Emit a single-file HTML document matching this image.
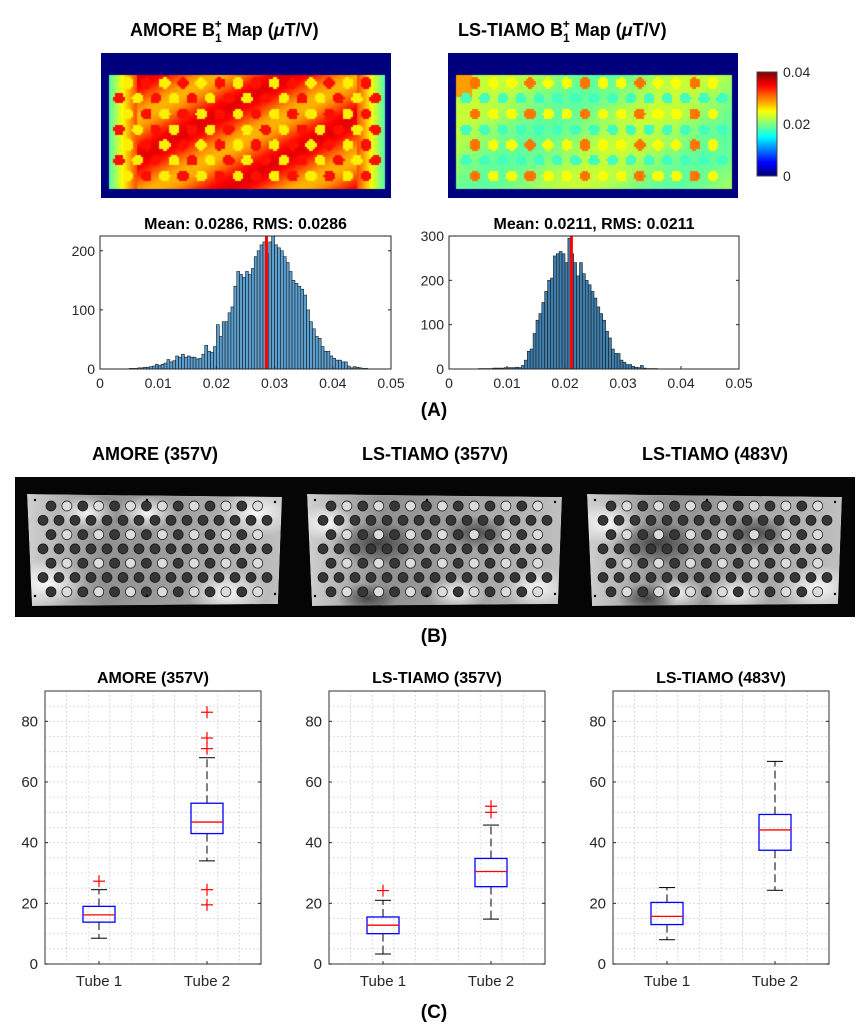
<!DOCTYPE html>
<html><head><meta charset="utf-8"><style>
body{margin:0;background:#fff;width:868px;height:1034px;overflow:hidden;position:relative;font-family:"Liberation Sans",Arial,sans-serif}
canvas{position:absolute}
svg{position:absolute;left:0;top:0}
</style></head><body>
<canvas id="mapA" width="290" height="145" style="left:101px;top:53px"></canvas>
<canvas id="mapB" width="290" height="145" style="left:448px;top:53px"></canvas>
<canvas id="cbar" width="20" height="104" style="left:757px;top:72px"></canvas>
<svg id="fig" width="868" height="1034" xmlns="http://www.w3.org/2000/svg" font-family="Liberation Sans, Arial, sans-serif">
<g font-weight="bold" font-size="18" fill="#000">
<text x="130" y="36">AMORE B<tspan font-size="12" dy="6">1</tspan><tspan font-size="12" dx="-7" dy="-14">+</tspan><tspan dy="8"> Map (</tspan><tspan font-style="italic">μ</tspan>T/V)</text>
<text x="458" y="36">LS-TIAMO B<tspan font-size="12" dy="6">1</tspan><tspan font-size="12" dx="-7" dy="-14">+</tspan><tspan dy="8"> Map (</tspan><tspan font-style="italic">μ</tspan>T/V)</text>
</g>
<rect x="757" y="72" width="20" height="104" fill="none" stroke="#444" stroke-width="1"/>
<g font-size="14" fill="#262626">
<text x="783" y="77">0.04</text><text x="783" y="129">0.02</text><text x="783" y="181">0</text></g>
<g id="hists"></g>
<text x="434" y="416" text-anchor="middle" font-weight="bold" font-size="19">(A)</text>
<g font-weight="bold" font-size="18" text-anchor="middle">
<text x="155" y="460">AMORE (357V)</text><text x="435" y="460">LS-TIAMO (357V)</text><text x="715" y="460">LS-TIAMO (483V)</text></g>
<rect x="15" y="477" width="840" height="140" fill="#050505"/>
<defs>
<linearGradient id="pg" x1="0" y1="0" x2="1" y2="0"><stop offset="0" stop-color="#d0d0d0"/><stop offset="0.3" stop-color="#909090"/><stop offset="0.6" stop-color="#a0a0a0"/><stop offset="1" stop-color="#c0c0c0"/></linearGradient>
<radialGradient id="blob"><stop offset="0" stop-color="#fff" stop-opacity="0.9"/><stop offset="1" stop-color="#fff" stop-opacity="0"/></radialGradient>
<radialGradient id="dblob"><stop offset="0" stop-color="#222" stop-opacity="0.7"/><stop offset="1" stop-color="#222" stop-opacity="0"/></radialGradient>
</defs>
<g id="phantoms"></g>
<text x="434" y="642" text-anchor="middle" font-weight="bold" font-size="19">(B)</text>
<g id="boxes"></g>
<text x="434" y="1018" text-anchor="middle" font-weight="bold" font-size="19">(C)</text>
</svg>
<script>
// ---------- histogram data ----------
const histBinWidth = 0.0005;
const histStart = 0.005;
const histAmoreCounts = [1,1,1,2,2,3,3,4,5,8,6,8,10,16,12,14,22,20,25,20,22,20,20,17,18,25,40,30,28,38,75,55,80,80,95,105,140,165,160,155,165,160,170,190,200,210,215,195,215,225,210,205,200,190,180,165,150,145,140,135,125,100,80,68,55,52,38,30,30,22,18,15,15,12,12,5,2,4,3,2,1,1];
const histTiamoCounts = [1,1,1,1,1,2,2,2,2,3,3,3,3,4,3,8,20,40,45,80,110,125,150,175,200,205,255,260,265,260,240,295,260,240,210,240,215,200,190,175,160,140,125,110,85,70,45,35,35,20,15,10,10,6,4,3,8,2,1,1,1,1];
const histMeans = [0.0286, 0.0211];
const histTitles = ["Mean: 0.0286, RMS: 0.0286","Mean: 0.0211, RMS: 0.0211"];
const histYMax = [225, 300];
const histYTicks = [[0,100,200],[0,100,200,300]];
const histXTicks = [0,0.01,0.02,0.03,0.04,0.05];
const histXTickLabels = ["0","0.01","0.02","0.03","0.04","0.05"];

// ---------- boxplot data ----------
const boxTitles = ["AMORE (357V)","LS-TIAMO (357V)","LS-TIAMO (483V)"];
const boxCategories = ["Tube 1","Tube 2"];
const boxMedians = [[16.2,46.8],[12.8,30.5],[15.7,44.2]];
const boxQ1 = [[13.8,43],[10,25.5],[13,37.5]];
const boxQ3 = [[19,53],[15.5,34.8],[20.3,49.3]];
const boxWhiskLo = [[8.5,34],[3.3,14.8],[8,24.3]];
const boxWhiskHi = [[24.5,68],[21,45.8],[25.2,66.8]];
const boxOutliers = [[[27.3],[83,74.5,71,24.5,19.5]],[[24.2],[52,50]],[[],[]]];
const boxYTicks = [0,20,40,60,80];

const NS="http://www.w3.org/2000/svg";
function mk(parent,tag,attrs){const e=document.createElementNS(NS,tag);for(const k in attrs)e.setAttribute(k,attrs[k]);parent.appendChild(e);return e;}

// ---------- histograms ----------
const hg=document.getElementById('hists');
const histAxes=[{x0:100,x1:391},{x0:449,x1:739}];
const histY0=369, histY1=236;
[histAmoreCounts,histTiamoCounts].forEach((counts,i)=>{
  const ax=histAxes[i];
  const g=mk(hg,'g',{});
  
  
  const xs=v=>ax.x0+(v-0)/0.05*(ax.x1-ax.x0);
  const ys=v=>histY0-v/histYMax[i]*(histY0-histY1);
  const t=mk(g,'text',{x:(ax.x0+ax.x1)/2,y:229,'text-anchor':'middle','font-weight':'bold','font-size':'16'});
  t.textContent=histTitles[i];
  
  
  counts.forEach((c,k)=>{
    const a=histStart+k*histBinWidth;
    const r=mk(g,'rect',{x:xs(a),y:ys(c),width:xs(a+histBinWidth)-xs(a),height:histY0-ys(c),fill:i==0?'#5b9fd1':'#3f7fb0',stroke:'#1a1a1a','stroke-width':'0.6'});
    
    
  });
  const ml=mk(g,'line',{x1:xs(histMeans[i]),x2:xs(histMeans[i]),y1:histY1,y2:histY0,stroke:'#ff0000','stroke-width':'3'});
  
  
  mk(g,'rect',{x:ax.x0,y:histY1,width:ax.x1-ax.x0,height:histY0-histY1,fill:'none',stroke:'#262626','stroke-width':'1'});
  histXTicks.forEach((v,k)=>{
    mk(g,'line',{x1:xs(v),x2:xs(v),y1:histY0,y2:histY0-3,stroke:'#262626'});
    const tt=mk(g,'text',{x:xs(v),y:388,'text-anchor':'middle','font-size':'14',fill:'#262626'});
    tt.textContent=histXTickLabels[k];
    
    
  });
  histYTicks[i].forEach(v=>{
    mk(g,'line',{x1:ax.x0,x2:ax.x0+3,y1:ys(v),y2:ys(v),stroke:'#262626'});
    mk(g,'line',{x1:ax.x1,x2:ax.x1-3,y1:ys(v),y2:ys(v),stroke:'#262626'});
    const tt=mk(g,'text',{x:ax.x0-5,y:ys(v)+5,'text-anchor':'end','font-size':'14',fill:'#262626'});
    tt.textContent=String(v);
    
    
  });
});

// ---------- phantoms ----------
const pg=document.getElementById('phantoms');
const defs=document.querySelector('defs');
[27,307,587].forEach((px,pi)=>{
  const pts=`${px},${494} ${px+255},${497} ${px+251},${604} ${px+5},${606}`;
  const cp=mk(defs,'clipPath',{id:'pc'+pi});
  mk(cp,'polygon',{points:pts});
  const g=mk(pg,'g',{'clip-path':`url(#pc${pi})`});
  
  
  mk(g,'polygon',{points:pts,fill:'url(#pg)'});
  const blobs=pi==0?[[20,90,40],[230,20,40],[120,20,30],[200,100,40],[60,20,30]]:pi==1?[[20,30,30],[230,95,35],[150,100,30]]:[[20,30,35],[230,95,40],[150,100,35],[90,100,30]];
  blobs.forEach(b=>mk(g,'ellipse',{cx:px+b[0],cy:493+b[1],rx:b[2],ry:b[2]*0.6,fill:'url(#blob)'}));
  if(pi>0)[[70,50,45],[170,40,35],[60,105,30]].forEach(b=>mk(g,'ellipse',{cx:px+b[0],cy:493+b[1],rx:b[2],ry:b[2]*0.5,fill:'url(#dblob)'}));
  for(let r=0;r<7;r++){
    const odd=r%2==0;const n=odd?14:15;const x0=odd?24:16;const sp=odd?15.9:16;
    for(let c=0;c<n;c++){
      const light=odd&&c%2==1;
      mk(g,'circle',{cx:px+x0+c*sp,cy:506+r*14.3,r:5,fill:light?'#dcdcdc':'#363636',stroke:'#111','stroke-width':'0.7'});
    }
  }
  [[8,7],[120,7],[248,9],[8,103],[120,103],[248,101]].forEach(d=>mk(g,'circle',{cx:px+d[0],cy:493+d[1],r:1.2,fill:'#000'}));
});

// ---------- boxplots ----------
const bg=document.getElementById('boxes');
const boxAxes=[{x0:45,x1:261},{x0:329,x1:545},{x0:613,x1:829}];
const bY0=964,bY1=691;
boxTitles.forEach((title,i)=>{
  const ax=boxAxes[i];
  const g=mk(bg,'g',{});
  
  
  const xs=v=>ax.x0+(v-0.5)/2*(ax.x1-ax.x0);
  const ys=v=>bY0-v/90*(bY0-bY1);
  const t=mk(g,'text',{x:(ax.x0+ax.x1)/2,y:683,'text-anchor':'middle','font-weight':'bold','font-size':'16'});
  t.textContent=title;
  
  
  for(let v=5;v<90;v+=5)mk(g,'line',{x1:ax.x0,x2:ax.x1,y1:ys(v),y2:ys(v),stroke:'#c8c8c8','stroke-width':'0.8','stroke-dasharray':'1.5,2.5'});
  for(let k=1;k<10;k++){const v=0.5+k*0.2;mk(g,'line',{x1:xs(v),x2:xs(v),y1:bY1,y2:bY0,stroke:'#c8c8c8','stroke-width':'0.8','stroke-dasharray':'1.5,2.5'});}
  mk(g,'rect',{x:ax.x0,y:bY1,width:ax.x1-ax.x0,height:bY0-bY1,fill:'none',stroke:'#555','stroke-width':'1.2'});
  boxYTicks.forEach(v=>{
    mk(g,'line',{x1:ax.x0,x2:ax.x0+3,y1:ys(v),y2:ys(v),stroke:'#262626'});
    mk(g,'line',{x1:ax.x1,x2:ax.x1-3,y1:ys(v),y2:ys(v),stroke:'#262626'});
    const tt=mk(g,'text',{x:ax.x0-7,y:ys(v)+5,'text-anchor':'end','font-size':'15',fill:'#262626'});
    tt.textContent=String(v);
    
    
  });
  boxCategories.forEach((cat,j)=>{
    const cx=xs(j+1);
    mk(g,'line',{x1:cx,x2:cx,y1:bY0,y2:bY0-3,stroke:'#262626'});
    const tt=mk(g,'text',{x:cx,y:986,'text-anchor':'middle','font-size':'15',fill:'#262626'});
    tt.textContent=cat;
    
    
    const w=mk(g,'g',{});
    
    
    mk(w,'line',{x1:cx,x2:cx,y1:ys(boxQ3[i][j]),y2:ys(boxWhiskHi[i][j]),stroke:'#000','stroke-dasharray':'8,4'});
    mk(w,'line',{x1:cx,x2:cx,y1:ys(boxQ1[i][j]),y2:ys(boxWhiskLo[i][j]),stroke:'#000','stroke-dasharray':'8,4'});
    mk(w,'line',{x1:cx-8,x2:cx+8,y1:ys(boxWhiskHi[i][j]),y2:ys(boxWhiskHi[i][j]),stroke:'#000'});
    mk(w,'line',{x1:cx-8,x2:cx+8,y1:ys(boxWhiskLo[i][j]),y2:ys(boxWhiskLo[i][j]),stroke:'#000'});
    const b=mk(g,'rect',{x:cx-16,y:ys(boxQ3[i][j]),width:32,height:ys(boxQ1[i][j])-ys(boxQ3[i][j]),fill:'none',stroke:'#0000ff','stroke-width':'1.3'});
    
    
    const m=mk(g,'line',{x1:cx-16,x2:cx+16,y1:ys(boxMedians[i][j]),y2:ys(boxMedians[i][j]),stroke:'#ff0000','stroke-width':'1.3'});
    
    
    boxOutliers[i][j].forEach(o=>{
      const og=mk(g,'g',{stroke:'#ff0000','stroke-width':'1.2'});
      
      
      mk(og,'line',{x1:cx-6,x2:cx+6,y1:ys(o),y2:ys(o)});
      mk(og,'line',{x1:cx,x2:cx,y1:ys(o)-6,y2:ys(o)+6});
    });
  });
});

// ---------- maps (image-like rendering) ----------
function jet(v){v=Math.max(0,Math.min(1,v));
  const r=Math.max(0,Math.min(1,1.5-Math.abs(4*v-3))),g=Math.max(0,Math.min(1,1.5-Math.abs(4*v-2))),b=Math.max(0,Math.min(1,1.5-Math.abs(4*v-1)));
  return [r*255|0,g*255|0,b*255|0];}
function drawMap(id,kind){
  const cv=document.getElementById(id),ctx=cv.getContext('2d');
  const W=cv.width,H=cv.height;
  const img=ctx.createImageData(W,H);
  const ix0=7,ix1=W-7,iy0=21,iy1=H-10;
  const iw=ix1-ix0,ih=iy1-iy0;
  for(let y=0;y<H;y+=2)for(let x=0;x<W;x+=2){
    let v=0;
    if(x>=ix0&&x<ix1&&y>=iy0&&y<iy1){
      const u=(x-ix0)/iw,w=(y-iy0)/ih;
      // circle grid in pixels
      const row=Math.round((y-iy0-9)/15.5);
      const even=row%2==0;
      const sp=even?18.3:18.3, x0=even?20:11;
      const n=even?14:15;
      const col=Math.round((x-ix0-x0)/sp);
      const cxp=ix0+x0+col*sp, cyp=iy0+9+row*15.5;
      const d=Math.hypot(x+1-cxp,y+1-cyp);
      const inC=d<5.5&&col>=0&&col<n&&row>=0&&row<7;
      if(kind==0){
        v=0.80+0.1*Math.sin((u*2+w*1.5)*6);
        const edge=Math.min(u,1-u);
        if(edge<0.1)v=0.45+edge*3.5;
        if(inC)v=(col+row)%2==0?0.64:0.86;
      }else{
        v=0.52+0.05*Math.sin(u*9+w*4);
        if(u<0.06&&w<0.2)v=0.72;
        if(inC)v=even?((col%3==0)?0.76:0.62):0.44;
      }
    }
    const c=jet(v);
    for(let dy=0;dy<2;dy++)for(let dx=0;dx<2;dx++){const p=((y+dy)*W+(x+dx))*4;img.data[p]=c[0];img.data[p+1]=c[1];img.data[p+2]=c[2];img.data[p+3]=255;}
  }
  ctx.putImageData(img,0,0);
}
drawMap('mapA',0);drawMap('mapB',1);
(function(){const cv=document.getElementById('cbar'),ctx=cv.getContext('2d');
  for(let y=0;y<cv.height;y++){const c=jet(1-y/(cv.height-1));ctx.fillStyle=`rgb(${c[0]},${c[1]},${c[2]})`;ctx.fillRect(0,y,cv.width,1);}})();
</script>
</body></html>
